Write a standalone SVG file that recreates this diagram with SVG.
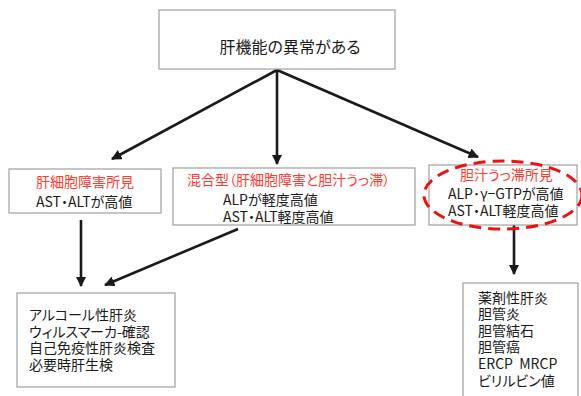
<svg xmlns="http://www.w3.org/2000/svg" width="581" height="396" viewBox="0 0 581 396">
<defs>
<style>
.box{fill:#fff;stroke:#a0a0a0;stroke-width:1.2}
text{font-family:"Noto Sans CJK JP","Noto Sans",sans-serif;fill:#1a1a1a;font-size:14px;font-feature-settings:"palt"}
text.title{font-size:16px}
text.red{fill:#ff3b30}
.conn{stroke:#1a1a1a;stroke-width:2.6;fill:none;marker-end:url(#ah)}
</style>
<marker id="ah" viewBox="0 0 10 10" refX="9" refY="5" markerWidth="4" markerHeight="4" orient="auto" markerUnits="strokeWidth">
<path d="M0,0 L10,5 L0,10 z" fill="#1a1a1a"/>
</marker>
</defs>
<rect width="581" height="396" fill="#fff"/>
<g id="connectors">
<line class="conn" x1="277" y1="70" x2="112" y2="159"/>
<line class="conn" x1="277" y1="70" x2="277" y2="164"/>
<line class="conn" x1="277" y1="70" x2="478" y2="157"/>
<line class="conn" x1="81" y1="220" x2="81" y2="286"/>
<line class="conn" x1="238" y1="229" x2="105" y2="285"/>
<line class="conn" x1="514" y1="225" x2="514" y2="274"/>
</g>
<g id="top">
<rect class="box" x="159" y="10" width="236" height="59"/>
<text class="title" x="290" y="53" text-anchor="middle">肝機能の異常がある</text>
</g>
<g id="hepatocellular">
<rect class="box" x="9" y="169" width="152" height="44"/>
<text class="red" x="36" y="187">肝細胞障害所見</text>
<text x="36" y="207">AST・ALTが高値</text>
</g>
<g id="mixed">
<rect class="box" x="173" y="168" width="242" height="57"/>
<text class="red" x="187" y="185">混合型（肝細胞障害と胆汁うっ滞）</text>
<text x="223" y="205">ALPが軽度高値</text>
<text x="223" y="222">AST・ALT軽度高値</text>
</g>
<g id="cholestasis">
<rect class="box" x="429" y="165" width="148" height="60"/>
<text class="red" x="460" y="180">胆汁うっ滞所見</text>
<text x="448" y="199">ALP･γ−GTPが高値</text>
<text x="448" y="216">AST・ALT軽度高値</text>
<ellipse cx="503" cy="195" rx="79" ry="34" fill="none" stroke="#ee1111" stroke-width="3" stroke-dasharray="12 7"/>
</g>
<g id="workup-left">
<rect class="box" x="17" y="293" width="158" height="94"/>
<text x="29" y="320">アルコール性肝炎</text>
<text x="29" y="337">ウィルスマーカ-確認</text>
<text x="29" y="353">自己免疫性肝炎検査</text>
<text x="29" y="370">必要時肝生検</text>
</g>
<g id="workup-right">
<rect class="box" x="463" y="283" width="115" height="120"/>
<text x="478" y="303">薬剤性肝炎</text>
<text x="478" y="319">胆管炎</text>
<text x="478" y="336">胆管結石</text>
<text x="478" y="352">胆管癌</text>
<text x="478" y="369">ERCP&#160; MRCP</text>
<text x="478" y="386">ビリルビン値</text>
</g>
</svg>
